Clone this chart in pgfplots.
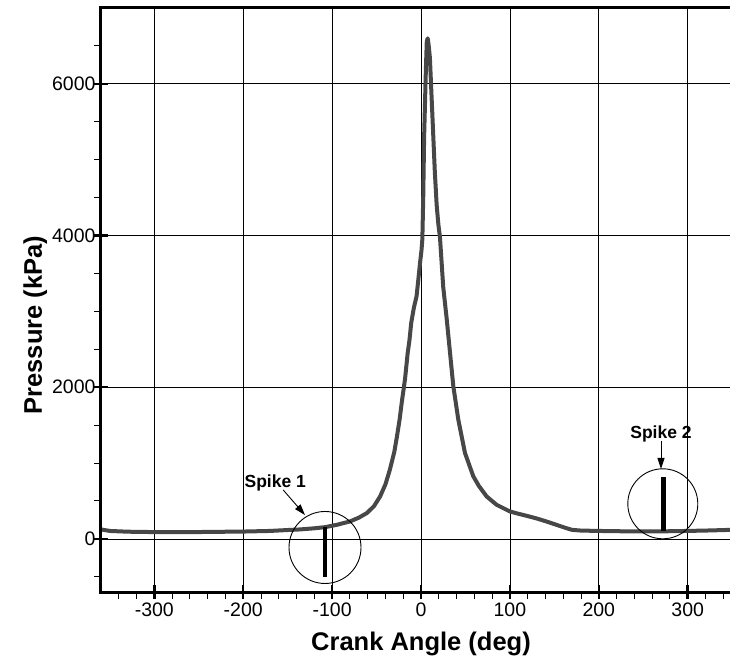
\documentclass[border=0pt]{standalone}
\usepackage{fontspec}
\setmainfont{Liberation Sans}
\usepackage{pgfplots}
\usepackage{pgfplotstable}
\pgfplotsset{compat=1.18}
\usetikzlibrary{arrows.meta}

% Cylinder pressure over one cycle: crank angle (deg), pressure (kPa)
\pgfplotstableread{
x y
-360 125
-350 105
-330 95
-300 90
-270 88
-240 92
-200 97
-170 105
-147 119
-136 125
-120 140
-108 155
-95 185
-80 230
-70 280
-61 340
-53 430
-46 560
-40 720
-35 914
-30 1150
-27 1355
-24 1580
-21.7 1797
-18 2106
-15 2450
-13 2620
-11 2850
-8 3050
-5 3200
-3 3420
-1 3650
0.5 3800
1.5 3950
2.5 4500
3.5 5300
4.5 5750
5.5 6200
6.5 6560
7.5 6600
8.5 6520
10 6344
12 5800
13.9 5285
15.5 4850
17.6 4402
19.5 4150
21.3 3980
25 3320
28.9 2900
32.6 2459
36.3 2017
41.9 1576
49.4 1135
58.8 826
65 700
73.8 560
85 450
100 362
110 330
118.7 305
130 270
141 230
152.5 185
163.7 141
170 119
180 110
200 105
230 100
260 98
290 103
320 110
347.6 119
}\pressure

\pgfplotstableread{
x y
-108 155
-108 -507
}\spikeone

\pgfplotstableread{
x y
273 100
273 812
}\spiketwo

\begin{document}
\begin{tikzpicture}
\begin{axis}[
  at={(0,0)}, anchor=south west,
  scale only axis, width=629pt, height=584pt,
  xmin=-360, xmax=347.6, ymin=-700, ymax=7000,
  clip=false,
  axis line style={draw=none},
  tick pos=left,
  xtick={-300,-200,...,300},
  xticklabels={-300,-200,-100,0,100,200,300},
  ytick={0,2000,4000,6000},
  yticklabels={0,2000,4000,6000},
  tick align=center,
  major tick length=14pt,
  major tick style={black, line width=2.4pt},
  grid=major,
  major grid style={black, line width=0.8pt},
  tick label style={font=\fontsize{19.5}{23}\selectfont},
  yticklabel style={xshift=5pt},
  xlabel={Crank Angle (deg)},
  ylabel={Pressure (kPa)},
  label style={font=\fontsize{25.5}{30}\selectfont\bfseries},
  xlabel style={at={(axis description cs:0.5088,0)}, anchor=base, yshift=-58pt},
  ylabel style={at={(axis description cs:0,0.457)}, anchor=base, yshift=59pt},
]
\addplot[color=black!72, line width=4pt, line join=round] table[x=x,y=y] {\pressure};
\addplot[black, line width=4.5pt] table[x=x,y=y] {\spikeone};
\addplot[black, line width=4.5pt] table[x=x,y=y] {\spiketwo};

% frame on the left, bottom and top
\draw[black, line width=3pt, line join=miter]
  (rel axis cs:1,1) -- (rel axis cs:0,1) -- (rel axis cs:0,0) -- (rel axis cs:1,0);

% spike annotations
\draw[black, line width=0.9pt] (axis cs:-108,-113) circle[radius=36pt];
\draw[black, line width=0.9pt] (axis cs:272,463) circle[radius=35pt];
\node[font=\fontsize{17.5}{20}\selectfont\bfseries] at (axis cs:-164,737) {Spike 1};
\node[font=\fontsize{17.5}{20}\selectfont\bfseries] at (axis cs:270,1383) {Spike 2};
\draw[black, line width=0.9pt, -{Triangle[length=11pt,width=7pt]}]
  (axis cs:-155,645) -- (axis cs:-130.5,315);
\draw[black, line width=0.9pt, -{Triangle[length=11pt,width=7pt]}]
  (axis cs:270,1291) -- (axis cs:270,922);
\end{axis}

% minor ticks, set outside the frame
\begin{axis}[
  at={(0,0)}, anchor=south west,
  scale only axis, width=629pt, height=584pt,
  xmin=-360, xmax=347.6, ymin=-700, ymax=7000,
  axis line style={draw=none},
  tick pos=left,
  tick align=outside,
  xtick={-340,-320,-280,-260,-240,-220,-180,-160,-140,-120,-80,-60,-40,-20,20,40,60,80,120,140,160,180,220,240,260,280,320,340},
  ytick={-500,500,1000,1500,2500,3000,3500,4500,5000,5500,6500},
  xticklabels={}, yticklabels={},
  major tick length=7pt,
  major tick style={black, line width=1pt},
]
\end{axis}
\pgfresetboundingbox
\path[use as bounding box] (-101pt,-72pt) rectangle (629pt,592pt);
\end{tikzpicture}
\end{document}
